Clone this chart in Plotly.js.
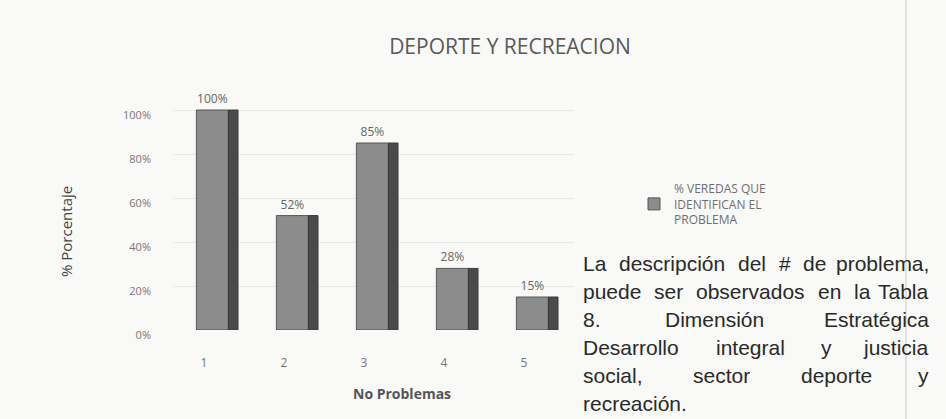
<!DOCTYPE html>
<html>
<head>
<meta charset="utf-8">
<script src="https://cdn.plot.ly/plotly-3.0.1.min.js"></script>
<style>
html,body{margin:0;padding:0;background:#f9f9f7;}
#chart{width:946px;height:419px;}
</style>
</head>
<body>
<div id="chart"></div>
<script>
// ---- data ----
const categories = ['1', '2', '3', '4', '5'];
const values = [1.00, 0.52, 0.85, 0.28, 0.15];
const seriesName = '% VEREDAS QUE<br>IDENTIFICAN EL<br>PROBLEMA';
const yTickVals = [0, 0.2, 0.4, 0.6, 0.8, 1.0];
const yTickText = ['0%', '20%', '40%', '60%', '80%', '100%'];
const chartTitle = 'DEPORTE Y RECREACION';
const xTitle = 'No Problemas';
const yTitle = '% Porcentaje';
const paragraphLines = [
  ['La', 'descripción', 'del', '#', 'de', 'problema,'],
  ['puede', 'ser', 'observados', 'en', 'la', 'Tabla'],
  ['8.', 'Dimensión', 'Estratégica'],
  ['Desarrollo', 'integral', 'y', 'justicia'],
  ['social,', 'sector', 'deporte', 'y'],
  ['recreación.']
];

// ---- layout geometry (pixels) ----
const W = 946, H = 419;
const plotL = 174, plotR = 574, plotT = 88, plotB = 330;
const px2x = p => (p - plotL) / (plotR - plotL);
const py2y = p => (plotB - p) / (plotB - plotT);

const front = {
  type: 'bar', x: categories, y: values, name: seriesName,
  width: 0.4, offset: -0.22,
  marker: {color: '#8c8c8c', line: {color: '#555', width: 1}},
  text: values.map(v => Math.round(v * 100) + '%'),
  textposition: 'outside', cliponaxis: false,
  textfont: {family: 'Open Sans, sans-serif', size: 12, color: '#666'},
  hoverinfo: 'x+y'
};
const side = {
  type: 'bar', x: categories, y: values, showlegend: false,
  width: 0.12, offset: 0.18,
  marker: {color: '#4a4a4a', line: {color: '#3a3a3a', width: 1}},
  hoverinfo: 'skip'
};

// paragraph annotations, justified by measuring words
const paraL = 581, paraR = 931, lineY0 = 263, lineStep = 28;
const paraSize = 21;
const paraFont = {family: 'Liberation Sans, Arial, sans-serif', size: paraSize, color: '#2a2a2a'};
const ctx = document.createElement('canvas').getContext('2d');
ctx.font = paraSize + 'px "Liberation Sans", Arial, sans-serif';
const annotations = [];
paragraphLines.forEach((words, i) => {
  const yy = py2y(lineY0 + i * lineStep);
  const last = i === paragraphLines.length - 1;
  if (last || words.length === 1) {
    annotations.push({xref: 'paper', yref: 'paper', x: px2x(paraL), y: yy, xanchor: 'left', yanchor: 'middle',
      text: words.join(' '), showarrow: false, font: paraFont});
    return;
  }
  const widths = words.map(w => ctx.measureText(w).width);
  const total = widths.reduce((a, b) => a + b, 0);
  const gap = (paraR - paraL - total) / (words.length - 1);
  let cx = paraL;
  words.forEach((w, j) => {
    const isLast = j === words.length - 1;
    annotations.push({xref: 'paper', yref: 'paper', x: px2x(isLast ? paraR : cx), y: yy,
      xanchor: isLast ? 'right' : 'left', yanchor: 'middle',
      text: w, showarrow: false, font: paraFont});
    cx += widths[j] + gap;
  });
});
annotations.push({xref: 'paper', yref: 'paper', x: px2x(402), y: py2y(393), xanchor: 'center', yanchor: 'middle',
  text: '<b>' + xTitle + '</b>', showarrow: false, font: {family: 'Open Sans, sans-serif', size: 14, color: '#555'}});
annotations.push({xref: 'paper', yref: 'paper', x: px2x(66), y: py2y(232), xanchor: 'center', yanchor: 'middle',
  text: yTitle, textangle: -90, showarrow: false, font: {family: 'Open Sans, sans-serif', size: 15, color: '#444'}});

const layout = {
  width: W, height: H,
  paper_bgcolor: '#f9f9f7', plot_bgcolor: 'rgba(0,0,0,0)',
  margin: {l: plotL, r: W - plotR, t: plotT, b: H - plotB, pad: 0},
  title: {text: chartTitle, x: 510 / W, xref: 'container', y: 1 - 47 / H, yref: 'container',
    xanchor: 'center', yanchor: 'middle',
    font: {family: 'Open Sans, sans-serif', size: 21, color: '#5a5a5a'}},
  barmode: 'overlay',
  showlegend: true,
  legend: {x: px2x(634), y: py2y(174), xanchor: 'left', yanchor: 'top', bgcolor: 'rgba(0,0,0,0)',
    font: {family: 'Open Sans, sans-serif', size: 12, color: '#707070'}, itemwidth: 30},
  xaxis: {type: 'category', range: [-0.5, 4.5], showgrid: false, zeroline: false, showline: false,
    ticks: '', tickfont: {family: 'Open Sans, sans-serif', size: 12, color: '#777'},
    ticklabelstandoff: 24, ticklabelshift: -10},
  yaxis: {range: [0, 1.1], tickvals: yTickVals, ticktext: yTickText, showgrid: true, gridcolor: '#e8e8e8',
    gridwidth: 1, zeroline: false, showline: false, ticks: '',
    tickfont: {family: 'Open Sans, sans-serif', size: 11, color: '#777'}, ticklabelstandoff: 22, ticklabelshift: 5},
  annotations: annotations,
  shapes: [{type: 'line', xref: 'paper', yref: 'paper', x0: px2x(906), x1: px2x(906), y0: py2y(0), y1: py2y(H),
    line: {color: '#e2e2e2', width: 2}}]
};

Plotly.newPlot('chart', [front, side], layout, {displayModeBar: false, staticPlot: true});
</script>
</body>
</html>
